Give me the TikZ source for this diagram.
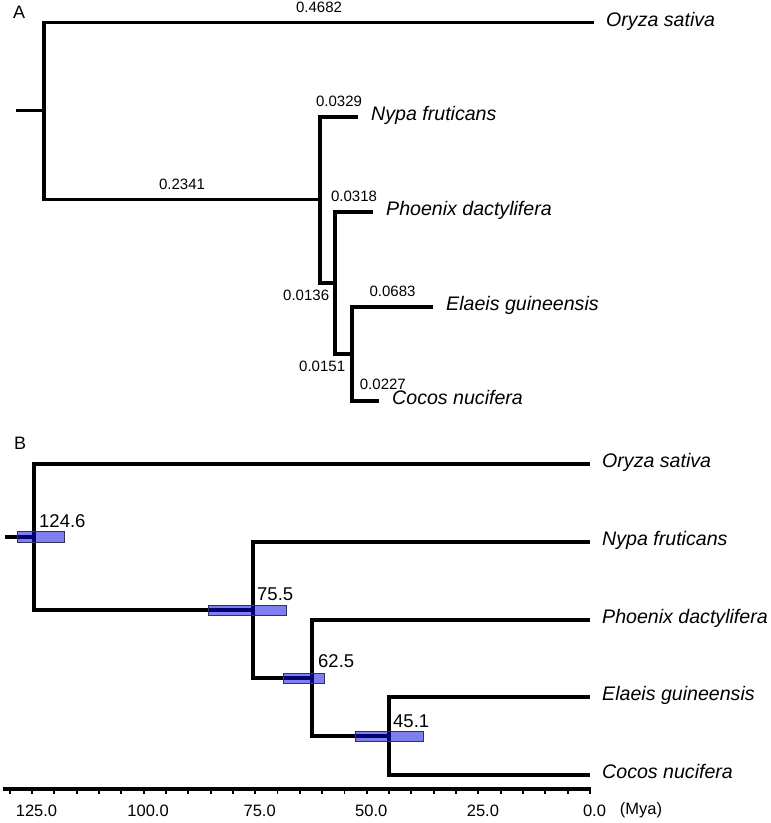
\documentclass[tikz,border=0pt]{standalone}
\usepackage{fontspec}
\setmainfont{Liberation Sans}
\usetikzlibrary{positioning}
\definecolor{hpdblue}{HTML}{0000E1}
\definecolor{hpdedge}{HTML}{32325A}
\tikzset{
  branch/.style={line width=3.8pt},
  tiplbl/.style={font=\fontsize{19.6}{23}\selectfont\itshape, inner sep=0pt,
                 anchor=mid west, yshift=-1.2pt},
  lenlbl/.style={font=\fontsize{15}{18}\selectfont, inner sep=0pt},
  agelbl/.style={font=\fontsize{18.5}{22}\selectfont, inner sep=0pt},
  axlbl/.style={font=\fontsize{16.5}{19}\selectfont, inner sep=0pt},
  panel/.style={font=\fontsize{18}{21}\selectfont, inner sep=0pt, anchor=base west},
  hpd/.style={draw=hpdedge, line width=0.9pt, fill=hpdblue, fill opacity=0.5},
  axline/.style={line width=3.4pt},
  axtick/.style={line width=1.9pt}
}

\begin{document}
\begin{tikzpicture}[x=1pt, y=-1pt]
  \useasboundingbox (0,0) rectangle (771,823);

  % panel A: branch lengths
  \node[panel] (pA) at (13,18) {A};
  \coordinate (aStub) at (16,110.5);
  \coordinate (aRoot) at (44,110.5);
  \coordinate (aOry) at (594,22.5);
  \coordinate (aN1) at (320,199.5);
  \coordinate (aNyp) at (358,117);
  \coordinate (aN2) at (335,283);
  \coordinate (aPho) at (373,212);
  \coordinate (aN3) at (352,354);
  \coordinate (aEla) at (433,307);
  \coordinate (aCoc) at (379,401);

  \draw[branch] (aStub) -- (aRoot);
  \draw[branch] (aRoot) |- node[lenlbl, pos=0.75, above=8pt] (lOry) {0.4682} (aOry);
  \draw[branch] (aRoot) |- node[lenlbl, pos=0.75, above=8pt] (lN1) {0.2341} (aN1);
  \draw[branch] (aN1) |- node[lenlbl, pos=0.75, above=8pt] (lNyp) {0.0329} (aNyp);
  \draw[branch] (aN1) |- node[lenlbl, pos=1, anchor=north east, xshift=-4pt, yshift=-5pt] (lN2) {0.0136} (aN2);
  \draw[branch] (aN2) |- node[lenlbl, pos=0.75, above=8pt] (lPho) {0.0318} (aPho);
  \draw[branch] (aN2) |- node[lenlbl, pos=1, anchor=north east, xshift=-5pt, yshift=-5pt] (lN3) {0.0151} (aN3);
  \draw[branch] (aN3) |- node[lenlbl, pos=0.75, above=8pt] (lEla) {0.0683} (aEla);
  \draw[branch] (aN3) |- node[lenlbl, pos=0.5, anchor=south west, xshift=6pt, yshift=9pt] (lCoc) {0.0227} (aCoc);

  \node[right=12pt of aOry, tiplbl] (tOryA) {Oryza sativa};
  \node[right=13pt of aNyp, tiplbl] (tNypA) {Nypa fruticans};
  \node[right=13pt of aPho, tiplbl] (tPhoA) {Phoenix dactylifera};
  \node[right=13pt of aEla, tiplbl] (tElaA) {Elaeis guineensis};
  \node[right=13pt of aCoc, tiplbl] (tCocA) {Cocos nucifera};

  % panel B: divergence times
  \node[panel] (pB) at (14,449) {B};
  \coordinate (bStub) at (5,537);
  \coordinate (bRoot) at (34,537);
  \coordinate (bOry) at (590,464);
  \coordinate (bN1) at (253,610);
  \coordinate (bNyp) at (590,542);
  \coordinate (bN2) at (312,678);
  \coordinate (bPho) at (590,620);
  \coordinate (bN3) at (389,736);
  \coordinate (bEla) at (590,697);
  \coordinate (bCoc) at (590,775);

  \draw[branch] (bStub) -- (bRoot);
  \draw[branch] (bRoot) |- (bOry);
  \draw[branch] (bRoot) |- (bN1);
  \draw[branch] (bN1) |- (bNyp);
  \draw[branch] (bN1) |- (bN2);
  \draw[branch] (bN2) |- (bPho);
  \draw[branch] (bN2) |- (bN3);
  \draw[branch] (bN3) |- (bEla);
  \draw[branch] (bN3) |- (bCoc);

  % 95% intervals
  \draw[hpd] (17,531.5) rectangle (64,542.5);
  \draw[hpd] (208,605) rectangle (286,615);
  \draw[hpd] (283,673) rectangle (324,683);
  \draw[hpd] (355,731) rectangle (423,741);

  \node[agelbl, above right=9.5pt and 5pt of bRoot] (gRoot) {124.6};
  \node[agelbl, above right=9.5pt and 4pt of bN1] (gN1) {75.5};
  \node[agelbl, above right=10pt and 6pt of bN2] (gN2) {62.5};
  \node[agelbl, above right=8pt and 4pt of bN3] (gN3) {45.1};

  \node[right=12pt of bOry, tiplbl] (tOryB) {Oryza sativa};
  \node[right=12pt of bNyp, tiplbl] (tNypB) {Nypa fruticans};
  \node[right=12pt of bPho, tiplbl] (tPhoB) {Phoenix dactylifera};
  \node[right=12pt of bEla, tiplbl] (tElaB) {Elaeis guineensis};
  \node[right=12pt of bCoc, tiplbl] (tCocB) {Cocos nucifera};

  % time axis
  \coordinate (axL) at (3,789);
  \coordinate (axR) at (591,789);
  \draw[axline] (axL) -- (axR);
  \foreach \t in {0,5,...,130}
    \draw[axtick] ({590-4.464*\t},789) -- ++(0,5);
  \foreach \t/\s in {0/0.0,25/25.0,50/50.0,75/75.0,100/100.0,125/125.0}
    \node[axlbl, xshift=4.5pt] (ax\t) at ({590-4.464*\t},810.5) {\s};
  \node[axlbl] (myaLbl) at (641,810.5) {(Mya)};
\end{tikzpicture}
\end{document}
